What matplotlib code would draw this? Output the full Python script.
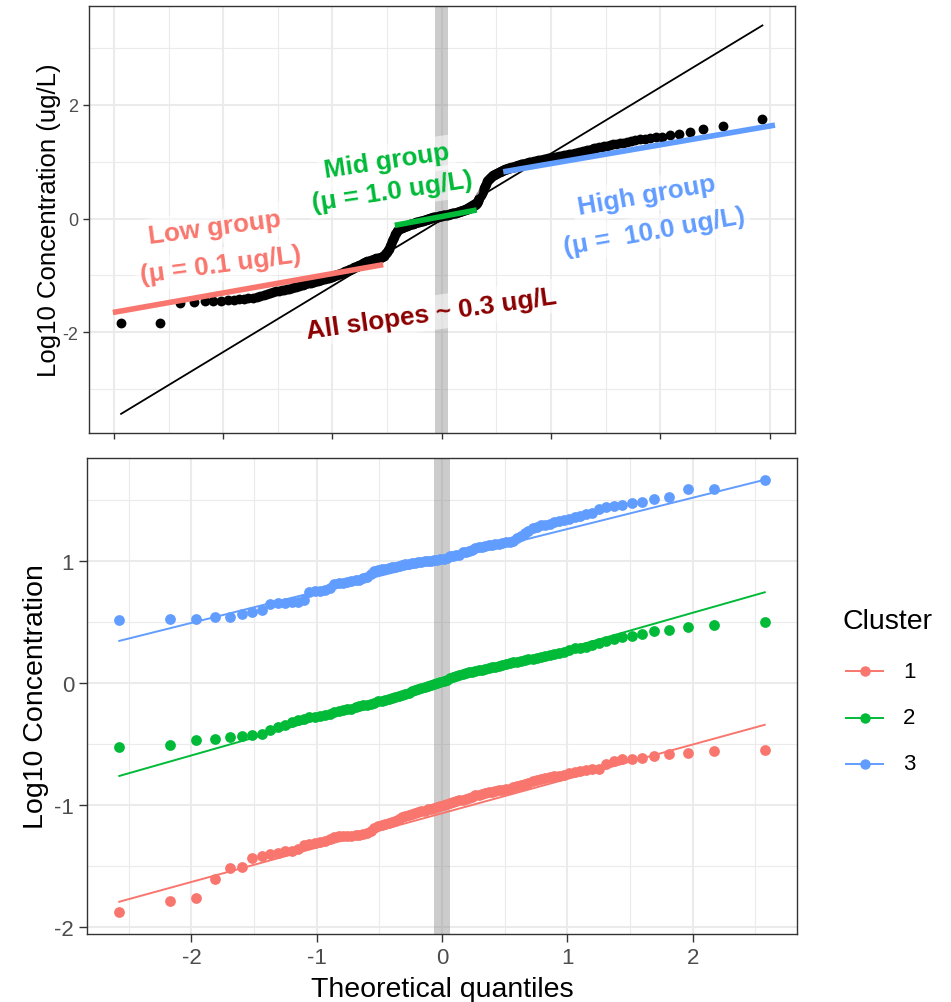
import matplotlib
matplotlib.use("Agg")
import matplotlib.pyplot as plt
import numpy as np
from statistics import NormalDist
from matplotlib.lines import Line2D

plt.rcParams['font.family'] = ['Liberation Sans', 'DejaVu Sans']
plt.rcParams['axes.unicode_minus'] = False

# pooled sample (log10 ug/L), sorted, split by group
pooled_low = [
    -1.84, -1.84, -1.49, -1.465, -1.45, -1.445, -1.44, -1.435, -1.43, -1.42,
    -1.41, -1.40, -1.39, -1.37, -1.36, -1.34, -1.32, -1.30, -1.29, -1.28,
    -1.27, -1.26, -1.25, -1.24, -1.23, -1.22, -1.21, -1.20, -1.19, -1.17,
    -1.16, -1.15, -1.14, -1.135, -1.13, -1.12, -1.11, -1.10, -1.09, -1.085,
    -1.08, -1.07, -1.06, -1.05, -1.045, -1.04, -1.03, -1.02, -1.01, -1.00,
    -0.99, -0.98, -0.97, -0.96, -0.95, -0.94, -0.93, -0.92, -0.91, -0.90,
    -0.89, -0.88, -0.87, -0.86, -0.85, -0.84, -0.83, -0.82, -0.81, -0.80,
    -0.79, -0.78, -0.77, -0.76, -0.75, -0.745, -0.74, -0.735, -0.73, -0.72,
    -0.715, -0.71, -0.70, -0.695, -0.69, -0.685, -0.68, -0.67, -0.66, -0.65,
    -0.63, -0.61, -0.59, -0.56, -0.53, -0.49, -0.45, -0.40, -0.36, -0.32,
]
pooled_mid = [
    -0.28, -0.25, -0.22, -0.20, -0.185, -0.175, -0.165, -0.16, -0.15, -0.145,
    -0.14, -0.13, -0.125, -0.12, -0.11, -0.105, -0.10, -0.095, -0.09, -0.085,
    -0.08, -0.075, -0.07, -0.065, -0.06, -0.055, -0.05, -0.045, -0.04, -0.035,
    -0.03, -0.025, -0.02, -0.015, -0.01, -0.005, 0.0, 0.005, 0.01, 0.015,
    0.02, 0.022, 0.025, 0.028, 0.03, 0.033, 0.036, 0.04, 0.043, 0.046,
    0.05, 0.053, 0.056, 0.06, 0.063, 0.066, 0.07, 0.073, 0.077, 0.08,
    0.084, 0.088, 0.092, 0.096, 0.10, 0.105, 0.11, 0.115, 0.12, 0.125,
    0.13, 0.135, 0.14, 0.145, 0.15, 0.155, 0.16, 0.165, 0.17, 0.18,
    0.19, 0.20, 0.21, 0.22, 0.23, 0.245, 0.26, 0.28, 0.30, 0.33,
    0.36, 0.39, 0.42, 0.45, 0.49, 0.53, 0.57, 0.61, 0.65, 0.68,
]
pooled_high = [
    0.70, 0.72, 0.73, 0.745, 0.76, 0.77, 0.78, 0.79, 0.80, 0.81,
    0.82, 0.83, 0.84, 0.85, 0.86, 0.865, 0.87, 0.875, 0.88, 0.885,
    0.89, 0.90, 0.905, 0.91, 0.92, 0.925, 0.93, 0.94, 0.945, 0.95,
    0.955, 0.96, 0.965, 0.97, 0.975, 0.98, 0.985, 0.99, 0.995, 1.0,
    1.005, 1.01, 1.015, 1.02, 1.025, 1.03, 1.035, 1.04, 1.045, 1.05,
    1.055, 1.06, 1.065, 1.07, 1.075, 1.08, 1.085, 1.09, 1.10, 1.105,
    1.11, 1.115, 1.12, 1.13, 1.135, 1.14, 1.15, 1.155, 1.16, 1.17,
    1.18, 1.19, 1.20, 1.21, 1.22, 1.23, 1.24, 1.25, 1.26, 1.27,
    1.28, 1.29, 1.30, 1.31, 1.32, 1.33, 1.345, 1.36, 1.375, 1.39,
    1.40, 1.42, 1.43, 1.44, 1.46, 1.48, 1.525, 1.58, 1.625, 1.74,
]

# per-cluster samples (log10), sorted
cluster_1 = [
    -1.88, -1.785, -1.765, -1.61, -1.52, -1.505, -1.43, -1.415, -1.40, -1.39,
    -1.38, -1.373, -1.36, -1.33, -1.32, -1.315, -1.305, -1.295, -1.28, -1.265,
    -1.255, -1.25, -1.25, -1.25, -1.248, -1.245, -1.24, -1.23, -1.21, -1.185,
    -1.175, -1.165, -1.158, -1.15, -1.14, -1.13, -1.115, -1.10, -1.09, -1.08,
    -1.07, -1.065, -1.06, -1.05, -1.045, -1.035, -1.028, -1.022, -1.015, -1.008,
    -1.0, -0.99, -0.98, -0.975, -0.97, -0.96, -0.955, -0.95, -0.94, -0.93,
    -0.92, -0.915, -0.91, -0.90, -0.895, -0.89, -0.885, -0.88, -0.875, -0.87,
    -0.865, -0.855, -0.845, -0.835, -0.825, -0.815, -0.805, -0.795, -0.785, -0.775,
    -0.77, -0.765, -0.76, -0.75, -0.74, -0.73, -0.72, -0.71, -0.705, -0.70,
    -0.665, -0.64, -0.625, -0.62, -0.615, -0.60, -0.58, -0.57, -0.555, -0.55,
]
cluster_2 = [
    -0.52, -0.505, -0.47, -0.46, -0.445, -0.435, -0.425, -0.42, -0.38, -0.36,
    -0.34, -0.32, -0.305, -0.29, -0.28, -0.275, -0.265, -0.26, -0.25, -0.24,
    -0.23, -0.222, -0.215, -0.208, -0.198, -0.19, -0.182, -0.175, -0.167, -0.16,
    -0.15, -0.142, -0.135, -0.128, -0.12, -0.112, -0.104, -0.095, -0.086, -0.077,
    -0.068, -0.058, -0.048, -0.039, -0.031, -0.023, -0.014, -0.005, 0.005, 0.012,
    0.02, 0.03, 0.04, 0.05, 0.058, 0.065, 0.072, 0.08, 0.088, 0.095,
    0.10, 0.105, 0.11, 0.118, 0.125, 0.13, 0.135, 0.14, 0.15, 0.16,
    0.165, 0.17, 0.175, 0.18, 0.19, 0.195, 0.20, 0.21, 0.215, 0.22,
    0.23, 0.24, 0.25, 0.26, 0.275, 0.285, 0.29, 0.30, 0.31, 0.33,
    0.345, 0.36, 0.375, 0.39, 0.405, 0.425, 0.435, 0.46, 0.475, 0.50,
]
cluster_3 = [
    0.52, 0.525, 0.53, 0.54, 0.54, 0.57, 0.585, 0.60, 0.65, 0.655,
    0.66, 0.663, 0.667, 0.68, 0.75, 0.755, 0.76, 0.765, 0.78, 0.81,
    0.82, 0.825, 0.83, 0.84, 0.845, 0.85, 0.86, 0.87, 0.895, 0.92,
    0.93, 0.935, 0.94, 0.945, 0.95, 0.955, 0.96, 0.97, 0.975, 0.98,
    0.985, 0.99, 0.993, 0.997, 1.0, 1.003, 1.006, 1.01, 1.013, 1.016,
    1.02, 1.03, 1.04, 1.045, 1.05, 1.055, 1.075, 1.08, 1.085, 1.09,
    1.11, 1.115, 1.12, 1.125, 1.13, 1.135, 1.14, 1.145, 1.15, 1.155,
    1.16, 1.17, 1.19, 1.21, 1.23, 1.25, 1.27, 1.285, 1.295, 1.30,
    1.31, 1.32, 1.33, 1.34, 1.35, 1.36, 1.375, 1.39, 1.40, 1.43,
    1.445, 1.455, 1.465, 1.475, 1.49, 1.515, 1.525, 1.59, 1.595, 1.67,
]

cluster_labels = ["1", "2", "3"]
cluster_colors = ["#F8766D", "#00BA38", "#619CFF"]

# qq reference lines as (intercept, slope)
pooled_line = (-0.02, 1.162)
cluster_lines = [(-1.067, 0.2818), (-0.0075, 0.2925), (1.008, 0.2566)]

# fitted group segments on the pooled plot: (q_start, q_end, v_start, v_end)
group_names = ["Low", "Mid", "High"]
group_colors = ["#F8766D", "#00BA38", "#619CFF"]
group_segments = [(-3.01, -0.536, -1.65, -0.81),
                  (-0.43, 0.32, -0.12, 0.15),
                  (0.563, 3.05, 0.82, 1.64)]

# annotation text, anchor (q, value), angle, colour
notes = [
    ("Low group", -2.077, -0.153, 7.5, "#F8766D"),
    ("(\u03bc = 0.1 ug/L)", -2.025, -0.814, 7.5, "#F8766D"),
    ("Mid group", -0.505, 1.005, 8.5, "#00BA38"),
    ("(\u03bc = 1.0 ug/L)", -0.453, 0.488, 8.5, "#00BA38"),
    ("High group", 1.876, 0.409, 10, "#619CFF"),
    ("(\u03bc =  10.0 ug/L)", 1.943, -0.232, 10, "#619CFF"),
    ("All slopes ~ 0.3 ug/L", -0.099, -1.661, 8, "#8B0000"),
]


def theoretical_quantiles(n):
    a = 3 / 8 if n <= 10 else 0.5
    nd = NormalDist()
    return np.array([nd.inv_cdf((i - a) / (n + 1 - 2 * a)) for i in range(1, n + 1)])


def style_axes(ax, tick_len, tick_size):
    ax.set_facecolor("white")
    ax.grid(True, which="major", color="#EBEBEB", lw=1.5, zorder=0)
    ax.grid(True, which="minor", color="#EBEBEB", lw=0.8, zorder=0)
    ax.set_axisbelow(True)
    for s in ax.spines.values():
        s.set_color("#333333")
        s.set_linewidth(1.0)
    ax.tick_params(which="major", length=tick_len, width=1.0, color="#333333",
                   labelcolor="#4D4D4D", labelsize=tick_size, pad=3.5)
    ax.tick_params(which="minor", length=0)


W, H = 951, 1003
fig = plt.figure(figsize=(W / 100, H / 100), dpi=100)

# ---- pooled panel ----
ax1 = fig.add_axes([89 / W, 1 - 434.3 / H, (794.5 - 89) / W, (434.3 - 7) / H])
pooled = np.array(pooled_low + pooled_mid + pooled_high)
q_all = theoretical_quantiles(len(pooled))
line_x = np.array([q_all[0], q_all[-1]])
line_y = pooled_line[0] + pooled_line[1] * line_x

qspan = q_all[-1] - q_all[0]
ax1.set_xlim(q_all[0] - 0.05 * qspan, q_all[-1] + 0.05 * qspan)
lo, hi = min(pooled.min(), line_y.min()), max(pooled.max(), line_y.max())
ax1.set_ylim(lo - 0.05 * (hi - lo), hi + 0.05 * (hi - lo))
ax1.set_xticks(np.arange(-3, 4))
ax1.set_xticks(np.arange(-2.5, 3.0, 1.0), minor=True)
ax1.set_yticks([-2, 0, 2])
ax1.set_yticks([-3, -1, 1, 3], minor=True)
ax1.set_xticklabels([])
style_axes(ax1, 4.3, 13)
ax1.set_ylabel("Log10 Concentration (ug/L)", fontsize=18.5, labelpad=1)

ax1.axvspan(-0.06, 0.06, color="#808080", alpha=0.4, lw=0, zorder=1)
ax1.scatter(q_all, pooled, s=50, color="black", linewidths=0, zorder=3)
ax1.plot(line_x, line_y, color="black", lw=1.3, zorder=4)

for (name, col, (q0, q1, v0, v1)) in zip(group_names, group_colors, group_segments):
    ax1.plot([q0, q1], [v0, v1], color=col, lw=4.0, solid_capstyle="butt", zorder=6)

for text, q, v, ang, col in notes:
    ax1.text(q, v, text, color=col, fontsize=18.8, fontweight="bold",
             rotation=ang, rotation_mode="anchor", ha="center", va="center",
             zorder=5,
             bbox=dict(boxstyle="round,pad=0.2", fc="white", ec="none", alpha=0.55))

# ---- per-cluster panel ----
ax2 = fig.add_axes([87 / W, 1 - 935 / H, (797 - 87) / W, (935 - 459) / H])
clusters = [np.array(cluster_1), np.array(cluster_2), np.array(cluster_3)]
q_c = theoretical_quantiles(len(cluster_1))
cspan = q_c[-1] - q_c[0]
ax2.set_xlim(q_c[0] - 0.05 * cspan, q_c[-1] + 0.05 * cspan)
cmin = min(c.min() for c in clusters)
cmax = max(c.max() for c in clusters)
ax2.set_ylim(cmin - 0.05 * (cmax - cmin), cmax + 0.05 * (cmax - cmin))
ax2.set_xticks([-2, -1, 0, 1, 2])
ax2.set_xticks([-2.5, -1.5, -0.5, 0.5, 1.5, 2.5], minor=True)
ax2.set_yticks([-2, -1, 0, 1])
ax2.set_yticks([-1.5, -0.5, 0.5, 1.5], minor=True)
style_axes(ax2, 5.8, 16)
ax2.set_ylabel("Log10 Concentration", fontsize=20.5, labelpad=4)
ax2.set_xlabel("Theoretical quantiles", fontsize=20.5, labelpad=6)

ax2.axvspan(-0.06, 0.06, color="#808080", alpha=0.4, lw=0, zorder=1)
for vals, col, (b0, b1) in zip(clusters, cluster_colors, cluster_lines):
    ax2.scatter(q_c, vals, s=60, color=col, linewidths=0, zorder=3)
    lx = np.array([q_c[0], q_c[-1]])
    ax2.plot(lx, b0 + b1 * lx, color=col, lw=1.4, zorder=4)

# ---- legend ----
fig.text(843 / W, 1 - 622 / H, "Cluster", fontsize=20.5, ha="left", va="center")
for k, (lab, col) in enumerate(zip(cluster_labels, cluster_colors)):
    yy = 1 - (672 + 46.5 * k) / H
    fig.add_artist(Line2D([846 / W, 883 / W], [yy, yy], transform=fig.transFigure,
                          color=col, lw=1.4))
    fig.add_artist(Line2D([864.5 / W], [yy], transform=fig.transFigure,
                          color=col, marker="o", markersize=7.5, markeredgewidth=0))
    fig.text(903 / W, yy, lab, fontsize=16, ha="left", va="center")

fig.savefig("out.png", dpi=100)
